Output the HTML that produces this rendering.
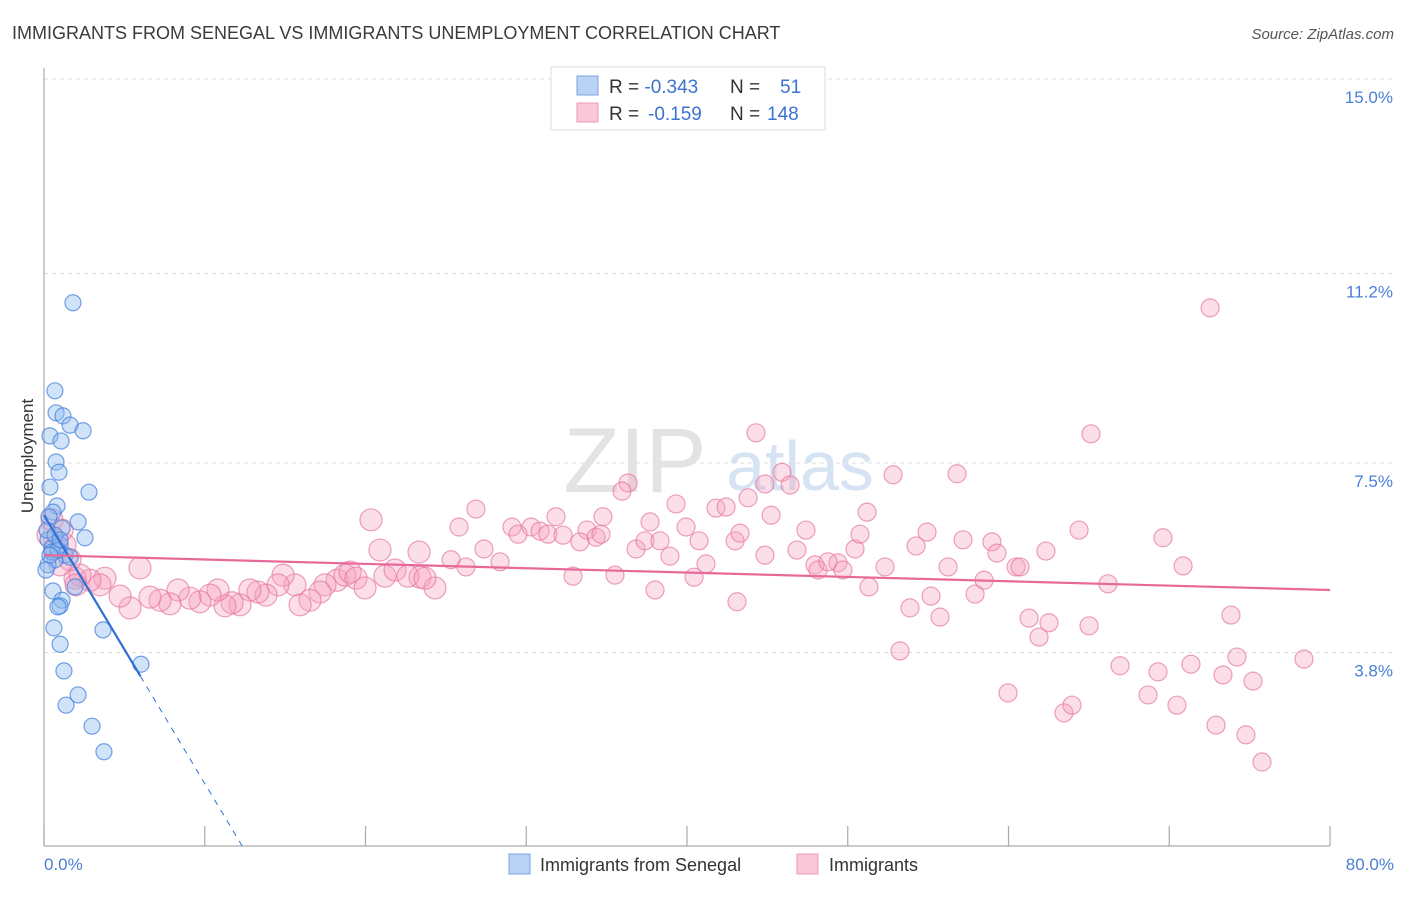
<!DOCTYPE html>
<html><head><meta charset="utf-8"><style>
body{margin:0;background:#fff;font-family:"Liberation Sans",sans-serif;}
svg text{font-family:"Liberation Sans",sans-serif;}
</style></head><body>
<svg width="1406" height="892" viewBox="0 0 1406 892" xmlns="http://www.w3.org/2000/svg">
<text x="12" y="39" font-size="18" fill="#3a3a3a">IMMIGRANTS FROM SENEGAL VS IMMIGRANTS UNEMPLOYMENT CORRELATION CHART</text>
<text x="1394" y="39" font-size="15" fill="#555" text-anchor="end" font-style="italic">Source: ZipAtlas.com</text>
<text x="0" y="0" transform="translate(33,456) rotate(-90)" font-size="17" fill="#333" text-anchor="middle">Unemployment</text>
<g id="grid"></g>
<g id="watermark">
<text x="635" y="492" font-size="92" fill="#e3e3e3" text-anchor="middle" font-family="Liberation Serif,serif">ZIP</text>
<text x="800" y="490" font-size="70" fill="#d5e3f3" text-anchor="middle">atlas</text>
</g>
<line x1="44" y1="68" x2="44" y2="846" stroke="#aaa" stroke-width="1.2"/>
<line x1="44" y1="846" x2="1330" y2="846" stroke="#aaa" stroke-width="1.2"/>
<g id="xticks"></g>
<g id="pink"></g>
<g id="blue"></g>
<g id="trends"></g>
<text x="44" y="870" font-size="17" fill="#4a7fd6">0.0%</text>
<text x="1394" y="870" font-size="17" fill="#4a7fd6" text-anchor="end">80.0%</text>
<g>
<rect x="551" y="67" width="274" height="63" fill="#fff" stroke="#ddd"/>
<rect x="577" y="76" width="21" height="19" fill="#b9d3f5" stroke="#7aa3e0"/>
<rect x="577" y="103" width="21" height="19" fill="#fac8d8" stroke="#eb9ab5"/>
<text x="609" y="93" font-size="19" fill="#333">R = <tspan fill="#3b73d1">-0.343</tspan><tspan x="730">N = </tspan><tspan x="780" fill="#3b73d1">51</tspan></text>
<text x="609" y="120" font-size="19" fill="#333">R = <tspan x="648" fill="#3b73d1">-0.159</tspan><tspan x="730">N = </tspan><tspan x="767" fill="#3b73d1">148</tspan></text>
</g>
<g>
<rect x="509" y="854" width="21" height="20" fill="#b9d3f5" stroke="#7aa3e0"/>
<text x="540" y="871" font-size="18" fill="#333">Immigrants from Senegal</text>
<rect x="797" y="854" width="21" height="20" fill="#fac8d8" stroke="#eb9ab5"/>
<text x="829" y="871" font-size="18" fill="#333">Immigrants</text>
</g>
</svg>
<script>
const yTicks=[3.8,7.5,11.2,15.0];
const yTickLabels=["3.8%","7.5%","11.2%","15.0%"];
const xTicks=[0,10,20,30,40,50,60,70,80];
const blueX=[1.80,0.68,0.75,1.18,1.62,2.43,0.37,1.06,0.75,0.93,0.37,2.80,0.81,0.56,0.31,2.12,1.12,2.55,0.25,0.50,1.00,1.31,0.68,0.25,0.50,0.87,0.37,1.93,0.56,1.12,1.00,0.87,3.67,0.62,1.00,1.24,6.03,2.12,1.37,2.99,3.73,1.62,0.19,0.12,0.68,1.00];
const blueY=[10.63,8.91,8.48,8.42,8.24,8.13,8.03,7.93,7.52,7.32,7.03,6.93,6.66,6.54,6.45,6.35,6.23,6.04,6.00,5.84,5.90,5.70,5.61,5.51,5.76,5.80,5.70,5.08,5.00,4.82,4.71,4.69,4.24,4.28,3.96,3.44,3.57,2.97,2.77,2.36,1.86,5.66,6.19,5.41,6.09,6.00];
const pinkX=[72.54,44.29,65.13,36.33,45.91,52.82,56.80,44.85,46.41,35.96,39.32,41.80,42.43,43.80,20.34,26.87,31.85,34.77,25.82,29.11,29.49,30.30,30.86,31.35,32.29,33.78,34.34,33.34,34.65,37.70,36.83,37.39,38.32,38.94,39.94,40.75,42.99,43.30,45.23,47.40,46.84,47.96,49.39,50.45,50.76,51.20,52.32,51.32,53.87,54.25,54.93,56.24,57.17,57.92,58.48,58.97,59.28,60.47,60.72,61.28,61.90,62.33,62.52,64.39,65.01,66.19,66.94,68.68,69.30,69.61,70.48,70.86,71.35,72.91,73.34,73.84,74.21,74.77,75.21,75.77,78.38,59.97,63.45,63.95,53.25,55.18,55.74,20.90,23.33,25.32,26.25,27.37,28.37,23.39,21.21,21.84,22.64,24.32,23.70,18.23,18.72,19.04,19.41,19.97,17.48,17.17,16.55,15.93,15.61,14.87,14.56,13.81,13.31,12.81,12.19,11.70,11.26,10.82,10.33,9.70,9.08,8.34,7.84,7.22,6.59,5.97,5.35,4.73,3.79,3.48,2.86,1.93,2.24,1.62,1.00,0.68,1.31,0.25,0.50,1.12,1.99,40.44,41.18,38.01,43.11,44.85,48.15,48.77,49.70,32.91,35.52];
const pinkY=[10.53,8.09,8.07,7.11,7.32,7.27,7.29,7.09,7.07,6.95,6.70,6.62,6.64,6.82,6.39,6.60,6.45,6.45,6.25,6.25,6.11,6.25,6.17,6.11,6.09,6.19,6.05,5.96,6.11,6.35,5.82,5.98,5.98,5.68,6.25,5.98,5.98,6.13,6.48,6.19,5.80,5.51,5.55,5.82,6.11,6.54,5.47,5.08,4.67,5.88,6.15,5.47,6.00,4.94,5.21,5.96,5.74,5.47,5.47,4.47,4.10,5.78,4.38,6.19,4.32,5.14,3.54,2.97,3.42,6.04,2.77,5.49,3.57,2.38,3.36,4.53,3.71,2.19,3.24,1.66,3.67,3.01,2.62,2.77,3.83,4.90,4.49,5.80,5.76,5.61,5.47,5.82,5.57,5.27,5.29,5.41,5.29,5.06,5.25,5.21,5.31,5.37,5.25,5.06,5.12,4.98,4.82,4.73,5.12,5.31,5.12,4.92,4.98,5.02,4.73,4.77,4.71,5.02,4.92,4.79,4.86,5.02,4.75,4.82,4.88,5.45,4.67,4.90,5.25,5.12,5.21,5.25,5.31,5.61,5.51,5.84,5.90,6.09,6.39,6.19,5.12,5.27,5.53,5.02,4.79,5.70,5.41,5.57,5.41,5.29,5.31];
const blueTrend=[6.48,-0.524];   // intercept, slope
const blueSolidEnd=6.0;
const pinkTrend=[5.70,-0.0085];
const NS="http://www.w3.org/2000/svg";
function sx(v){return 44+v*16.075;}
function sy(v){return 847-v*51.2;}
function mk(tag,attrs,parent){const e=document.createElementNS(NS,tag);for(const k in attrs)e.setAttribute(k,attrs[k]);parent.appendChild(e);return e;}
const grid=document.getElementById('grid');
yTicks.forEach((t,i)=>{
  const l=mk('line',{x1:44,x2:1393,y1:sy(t),y2:sy(t),stroke:'#ddd','stroke-dasharray':'4,4'},grid);
  
  
  const tx=mk('text',{x:1393,y:sy(t)+24,'font-size':17,fill:'#4a7fd6','text-anchor':'end'},grid);
  tx.textContent=yTickLabels[i];
  
  
});
const xt=document.getElementById('xticks');
xTicks.forEach(t=>{
  const l=mk('line',{x1:sx(t),x2:sx(t),y1:826,y2:846,stroke:'#aaa','stroke-width':1.2},xt);
  
  
});
const pg=document.getElementById('pink');
pinkX.forEach((x,i)=>{
  const c=mk('circle',{cx:sx(x),cy:sy(pinkY[i]),r:x<25?11:9,fill:'rgba(245,160,190,0.35)',stroke:'rgba(230,120,160,0.7)','stroke-width':1.2},pg);
  
  
});
const bg=document.getElementById('blue');
blueX.forEach((x,i)=>{
  const c=mk('circle',{cx:sx(x),cy:sy(blueY[i]),r:8,fill:'rgba(140,185,240,0.4)',stroke:'rgba(70,130,220,0.75)','stroke-width':1.2},bg);
  
  
});
const tg=document.getElementById('trends');
const bz=-blueTrend[0]/blueTrend[1];
let l1=mk('line',{x1:sx(0),y1:sy(blueTrend[0]),x2:sx(blueSolidEnd),y2:sy(blueTrend[0]+blueTrend[1]*blueSolidEnd),stroke:'#2f6fd6','stroke-width':2.2},tg);


let l2=mk('line',{x1:sx(blueSolidEnd),y1:sy(blueTrend[0]+blueTrend[1]*blueSolidEnd),x2:sx(bz),y2:sy(0),stroke:'#2f6fd6','stroke-width':1,'stroke-dasharray':'6,6'},tg);


let l3=mk('line',{x1:sx(0),y1:sy(pinkTrend[0]),x2:sx(80),y2:sy(pinkTrend[0]+pinkTrend[1]*80),stroke:'#e8689a','stroke-width':2.2},tg);


</script>
</body></html>
